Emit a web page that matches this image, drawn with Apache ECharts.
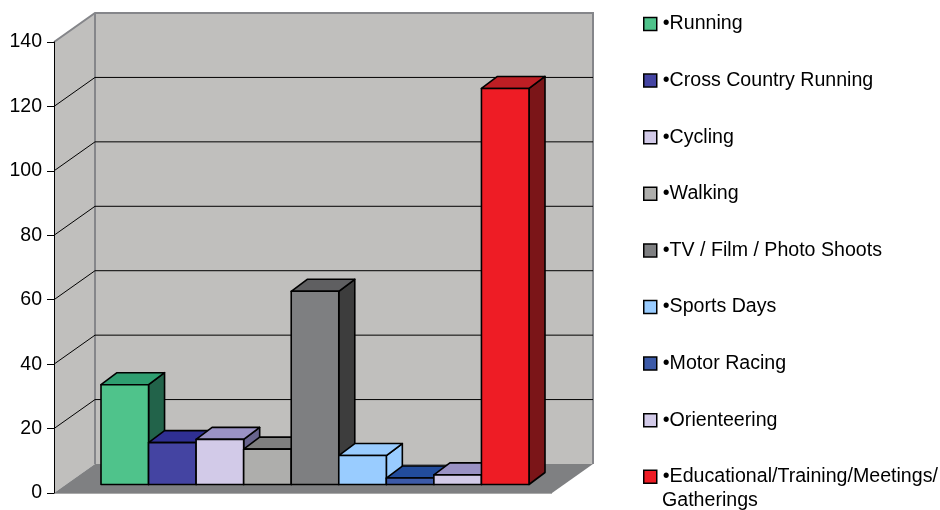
<!DOCTYPE html>
<html><head><meta charset="utf-8">
<style>html,body{margin:0;padding:0;background:#fff}#c{width:940px;height:510px}</style>
<script src="https://cdn.jsdelivr.net/npm/echarts@6/dist/echarts.min.js"></script>
</head><body><div id="c"></div>
<script>
const categories = ["•Running","•Cross Country Running","•Cycling","•Walking","•TV / Film / Photo Shoots","•Sports Days","•Motor Racing","•Orienteering","•Educational/Training/Meetings/"];
const values = [31,13,14,11,60,9,2,3,123];
const yTicks = [20,40,60,80,100,120];
const frontColors = ["#4FC38B","#4444A2","#D2CAE8","#AEAEAC","#7E7F81","#99CCFF","#3C5AA8","#D2CAE8","#EE1C25"];
const topColors   = ["#2F9E70","#2F2F93","#9A92C4","#7F7F7F","#5F5F61","#99CCFF","#224C9C","#9A92C4","#BE1E24"];
const sideColors  = ["#22634A","#252570","#68648E","#5A5A5A","#3D3D3D","#99CCFF","#1C3A78","#68648E","#7B1518"];

const WALL = '#C0BFBD', FLOOR = '#7F8082', EDGE = '#85868A';
const DX = 41, DY = 29, BX = 16, BY = 12;
const chart = echarts.init(document.getElementById('c'), null, {renderer:'canvas'});

function wall(params, api){
  const a = api.coord([0,0]), b = api.coord([1,0]), t = api.coord([0,140]), u = api.coord([1,140]);
  const line = {stroke:EDGE, lineWidth:2, fill:'none'};
  return {type:'group', children:[
    {type:'polygon', shape:{points:[a,[a[0]+DX,a[1]-DY],[t[0]+DX,t[1]-DY],t]}, style:{fill:WALL}},
    {type:'polygon', shape:{points:[[a[0]+DX,a[1]-DY],[b[0]+DX,b[1]-DY],[u[0]+DX,u[1]-DY],[t[0]+DX,t[1]-DY]]}, style:{fill:WALL}},
    {type:'polygon', shape:{points:[a,b,[b[0]+DX,b[1]-DY],[a[0]+DX,a[1]-DY]]}, style:{fill:FLOOR}},
    {type:'polyline', shape:{points:[t,[t[0]+DX,t[1]-DY],[u[0]+DX,u[1]-DY],[b[0]+DX,b[1]-DY]]}, style:line},
    {type:'line', shape:{x1:t[0]+DX,y1:t[1]-DY,x2:a[0]+DX,y2:a[1]-DY}, style:line},
    {type:'line', shape:{x1:a[0],y1:a[1]+0.5,x2:b[0],y2:b[1]+0.5}, style:{stroke:'#A9A9A9',lineWidth:1}}
  ]};
}
function grid(params, api){
  const v = api.value(0), a = api.coord([0,v]), b = api.coord([1,v]);
  return {type:'polyline', shape:{points:[a,[a[0]+DX,a[1]-DY],[b[0]+DX,b[1]-DY]]}, style:{stroke:'#000',lineWidth:1,fill:'none'}};
}
function bar(params, api){
  const i = api.value(0), v = api.value(1), w = api.size([1,0])[0];
  const t = api.coord([i,v]), o = api.coord([i,0]);
  const x0 = t[0]-w/2, x1 = t[0]+w/2, y0 = t[1], y1 = o[1];
  const s = {stroke:'#000',lineWidth:1.6,lineJoin:'round'};
  return {type:'group', children:[
    {type:'polygon', shape:{points:[[x1,y0],[x1+BX,y0-BY],[x1+BX,y1-BY],[x1,y1]]}, style:{...s,fill:sideColors[i]}},
    {type:'polygon', shape:{points:[[x0,y0],[x1,y0],[x1+BX,y0-BY],[x0+BX,y0-BY]]}, style:{...s,fill:topColors[i]}},
    {type:'rect', shape:{x:x0,y:y0,width:w,height:y1-y0}, style:{...s,fill:frontColors[i]}}
  ]};
}

const series = [
  {type:'custom', xAxisIndex:0, yAxisIndex:0, z:1, silent:true, clip:false, renderItem:wall, data:[[0]]},
  {type:'custom', xAxisIndex:0, yAxisIndex:0, z:1, silent:true, clip:false, renderItem:grid, data:yTicks.map(v=>[v]), encode:{y:0}}
];
categories.forEach((name,i)=>series.push({
  type:'custom', name, xAxisIndex:1, yAxisIndex:1, z:2+i, silent:true, clip:false,
  itemStyle:{color:frontColors[i]}, renderItem:bar, data:[[i,values[i]]], encode:{x:0,y:1}
}));

chart.setOption({
  animation:false,
  backgroundColor:'#fff',
  textStyle:{fontFamily:'"Liberation Sans",Arial,sans-serif'},
  grid:[
    {left:54, top:42, width:498, height:451},
    {left:101, top:33.7, width:428, height:450.8}
  ],
  xAxis:[
    {gridIndex:0, type:'value', min:0, max:1, show:false},
    {gridIndex:1, type:'category', data:categories, show:false}
  ],
  yAxis:[
    {gridIndex:0, type:'value', min:0, max:140, interval:20, z:5,
     axisLine:{show:true,lineStyle:{color:'#000',width:1}},
     axisTick:{show:true,length:7,lineStyle:{color:'#000',width:1}},
     axisLabel:{color:'#000',fontSize:19.5,margin:12,fontFamily:'"Liberation Sans",Arial,sans-serif'},
     splitLine:{show:false}},
    {gridIndex:1, type:'value', min:0, max:140, show:false}
  ],
  legend:{
    orient:'vertical', left:643, top:12, itemWidth:13, itemHeight:13, itemGap:32.6, padding:0,
    selectedMode:false,
    textStyle:{color:'#000',fontSize:19.6,lineHeight:24,padding:[0,0,0,1],fontFamily:'"Liberation Sans",Arial,sans-serif'},
    data:categories.map((name,i)=>({name,icon:'rect',itemStyle:{color:frontColors[i],borderColor:'#000',borderWidth:1.5}}))
  },
  graphic:[{type:'text',left:662,top:491,style:{text:'Gatherings',fill:'#000',fontSize:19.6,fontFamily:'"Liberation Sans",Arial,sans-serif'}}],
  series
});
</script></body></html>
